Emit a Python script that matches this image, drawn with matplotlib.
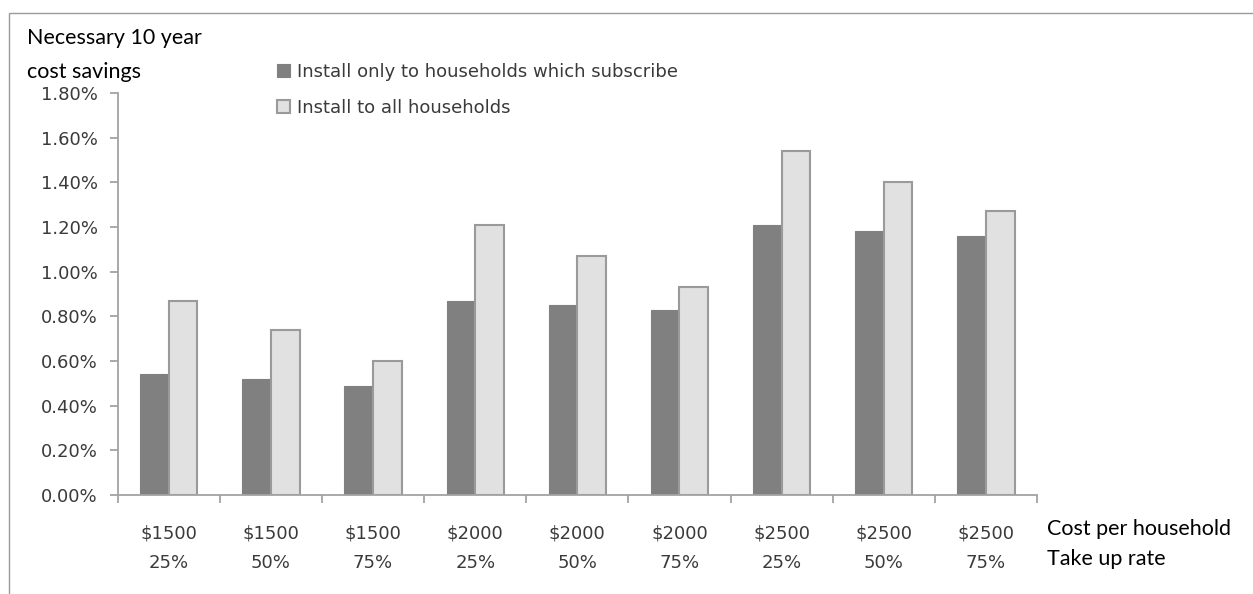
import matplotlib
matplotlib.use("Agg")
import matplotlib.pyplot as plt
import numpy as np
from matplotlib.patches import Rectangle

# data (percent values)
costs = ["$1500", "$1500", "$1500", "$2000", "$2000", "$2000", "$2500", "$2500", "$2500"]
take_up = ["25%", "50%", "75%", "25%", "50%", "75%", "25%", "50%", "75%"]
subscribers_only = [0.54, 0.52, 0.49, 0.87, 0.85, 0.83, 1.21, 1.18, 1.16]
all_households = [0.87, 0.74, 0.60, 1.21, 1.07, 0.93, 1.54, 1.40, 1.27]
series_names = ["Install only to households which subscribe", "Install to all households"]
y_ticks = [0.0, 0.2, 0.4, 0.6, 0.8, 1.0, 1.2, 1.4, 1.6, 1.8]

W, H = 1253, 594
fig = plt.figure(figsize=(W / 100, H / 100), dpi=100)

axis_col = "#a3a3a3"
text_col = "#3a3a3a"
font = "DejaVu Sans"
fs = 13
title_font = "Lato"
title_fs = 15.5

# outer chart frame (cropped at right and bottom)
fig.patches.append(Rectangle((9 / W, -0.1), 1.2, 1 - 12.7 / H + 0.1, transform=fig.transFigure,
                             fill=False, edgecolor="#9a9a9a", linewidth=1.0))

ax = fig.add_axes([117.7 / W, (H - 495) / H, (1037 - 117.7) / W, (495 - 93) / H])

x = np.arange(len(costs))
bw = 0.28
ax.bar(x - bw / 2, subscribers_only, bw, color="#808080", edgecolor="#808080", linewidth=0.8,
       label=series_names[0])
ax.bar(x + bw / 2, all_households, bw, color="#e1e1e1", edgecolor="#9a9a9a", linewidth=1.5,
       label=series_names[1])

ax.set_xlim(-0.5, len(costs) - 0.5)
ax.set_ylim(0, 1.8)

for s in ["top", "right"]:
    ax.spines[s].set_visible(False)
for s in ["left", "bottom"]:
    ax.spines[s].set_color(axis_col)
    ax.spines[s].set_linewidth(1.3)

ax.set_yticks(y_ticks)
ax.set_yticklabels(["%.2f%%" % v for v in y_ticks], fontsize=fs, color=text_col, family=font)
ax.tick_params(axis="y", length=5.5, color=axis_col, width=1.3, pad=9)

# boundaries get tick marks, centres get the labels
ax.set_xticks(np.arange(-0.5, len(costs), 1.0))
ax.set_xticklabels([])
ax.tick_params(axis="x", which="major", length=5.5, color=axis_col, width=1.3)
ax.set_xticks(x, minor=True)
ax.set_xticklabels([c + "\n" + t for c, t in zip(costs, take_up)], minor=True,
                   fontsize=fs, color=text_col, family=font)
ax.tick_params(axis="x", which="minor", length=0, pad=21)
for lab in ax.get_xticklabels(minor=True):
    lab.set_linespacing(1.83)

fig.text(26.7 / W, 1 - 44.3 / H, "Necessary 10 year", fontsize=title_fs, family=title_font,
         color="black", va="baseline", ha="left")
fig.text(26.7 / W, 1 - 78.3 / H, "cost savings", fontsize=title_fs, family=title_font,
         color="black", va="baseline", ha="left")
fig.text(1046.7 / W, 1 - 535 / H, "Cost per household", fontsize=title_fs, family=title_font,
         color="black", va="baseline", ha="left")
fig.text(1046.7 / W, 1 - 565 / H, "Take up rate", fontsize=title_fs, family=title_font,
         color="black", va="baseline", ha="left")

leg = fig.legend(loc="upper left", bbox_to_anchor=(276.7 / W, 1 - 63 / H),
                 frameon=False, prop={"family": font, "size": fs}, handlelength=0.72,
                 handleheight=0.72, handletextpad=0.39, labelspacing=1.0,
                 borderpad=0, borderaxespad=0)
for t in leg.get_texts():
    t.set_color(text_col)

fig.savefig("out.png", dpi=100)
